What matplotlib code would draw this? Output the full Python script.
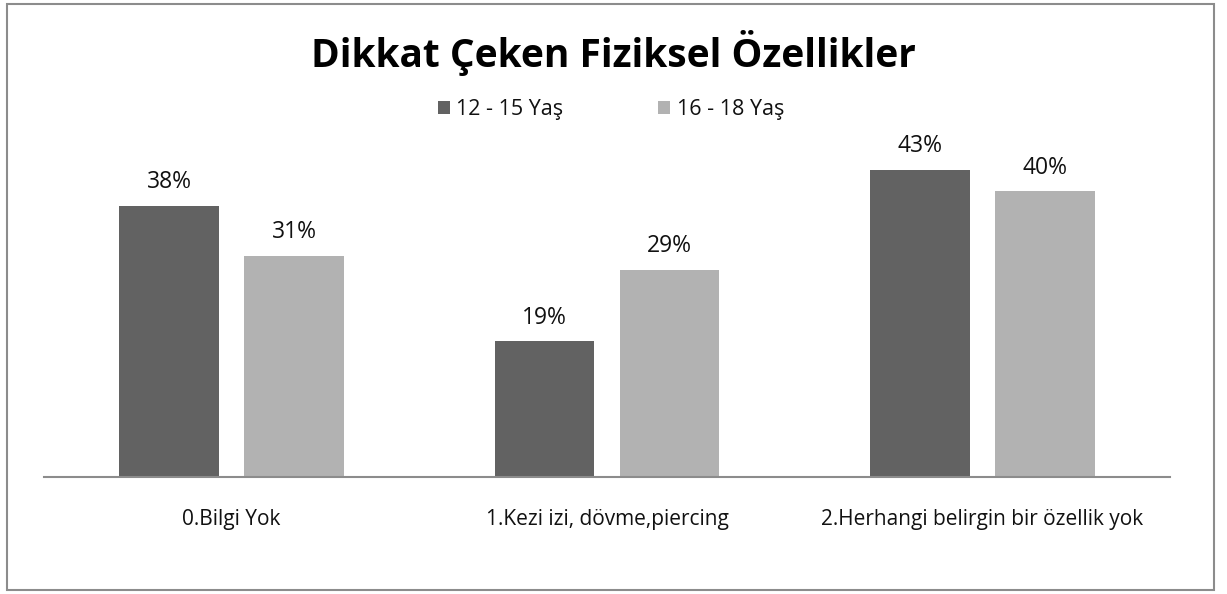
import numpy as np
import matplotlib.pyplot as plt
from matplotlib.patches import Rectangle

# Veriler
kategoriler = ['0.Bilgi Yok', '1.Kezi izi, dövme,piercing', '2.Herhangi belirgin bir özellik yok']
seriler = ['12 - 15 Yaş', '16 - 18 Yaş']
yas_12_15 = [38, 19, 43]
yas_16_18 = [31, 29, 40]
renkler = ['#626262', '#b2b2b2']

plt.rcParams['font.family'] = ['Open Sans', 'DejaVu Sans']

W, H = 1227, 594
fig = plt.figure(figsize=(W / 100, H / 100), dpi=100)

# Dis cerceve
fig.patches.append(Rectangle((7 / W, 4 / H), 1207 / W, 586 / H, transform=fig.transFigure,
                             fill=False, edgecolor='#8c8c8c', linewidth=1.5))

ax = fig.add_axes([44 / W, (H - 477) / H, 1126 / W, 357 / H])
x = np.arange(len(kategoriler))
genislik = 0.266
aralik = 0.067
ofset = (genislik + aralik) / 2

b1 = ax.bar(x - ofset, yas_12_15, genislik, color=renkler[0], label=seriler[0])
b2 = ax.bar(x + ofset, yas_16_18, genislik, color=renkler[1], label=seriler[1])

for bars in (b1, b2):
    for b in bars:
        ax.annotate(f'{b.get_height():.0f}%', (b.get_x() + b.get_width() / 2, b.get_height()),
                    xytext=(0, 17), textcoords='offset points', ha='center', va='center',
                    fontsize=16.5, color='#111111')

ax.set_xlim(-0.5, 2.5)
ax.set_ylim(0, 50)
ax.set_yticks([])
ax.set_xticks(x)
ax.set_xticklabels(kategoriler, fontsize=15, color='#111111')
ax.tick_params(axis='x', length=0, pad=23)
for s in ['top', 'right', 'left']:
    ax.spines[s].set_visible(False)
ax.spines['bottom'].set_color('#8c8c8c')
ax.spines['bottom'].set_linewidth(1.5)

fig.text(0.5, (H - 53) / H, 'Dikkat Çeken Fiziksel Özellikler', ha='center', va='center',
         fontsize=28, fontweight='bold')

fig.legend(loc='center', bbox_to_anchor=(611 / W, (H - 110) / H), ncol=2, frameon=False,
           fontsize=15.5, handlelength=0.55, handleheight=0.55, columnspacing=4.4, handletextpad=0.3,
           labelcolor='#111111')

fig.savefig('out.png', dpi=100)
